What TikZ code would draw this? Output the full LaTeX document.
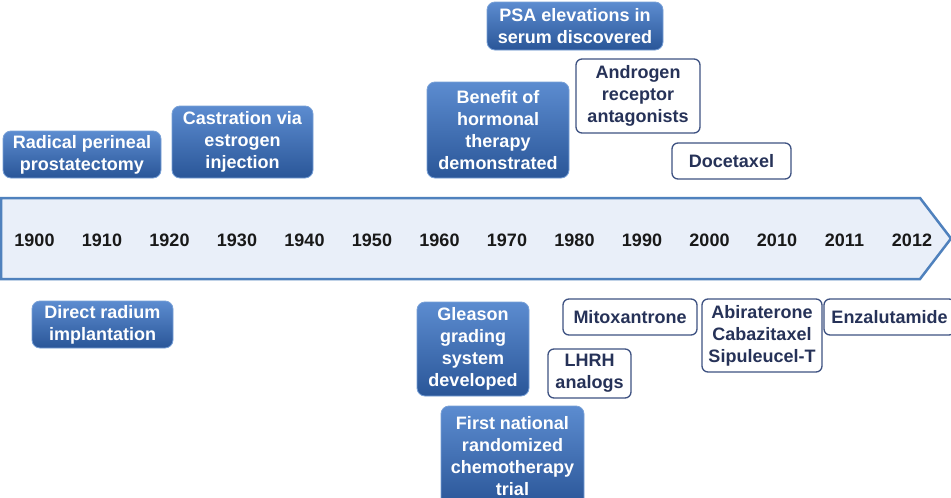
\documentclass[tikz,border=0pt]{standalone}
\usepackage{fontspec}
\setmainfont{Liberation Sans}
\definecolor{bluetop}{RGB}{92,140,208}
\definecolor{bluebot}{RGB}{42,86,152}
\definecolor{blueedge}{RGB}{120,160,215}
\definecolor{navy}{RGB}{38,50,88}
\definecolor{navyedge}{RGB}{62,82,130}
\definecolor{arrowfill}{RGB}{233,239,249}
\definecolor{arrowedge}{RGB}{79,129,189}
\definecolor{yeartext}{RGB}{25,25,25}
\tikzset{
  bluebox/.style={rounded corners=8pt, top color=bluetop, bottom color=bluebot,
    draw=blueedge, line width=0.8pt, text=white, align=center, inner sep=0pt,
    font=\bfseries\fontsize{18}{22}\selectfont},
  whitebox/.style={rounded corners=6pt, fill=white, draw=navyedge, line width=1.3pt,
    text=navy, align=center, inner sep=0pt,
    font=\bfseries\fontsize{18}{22}\selectfont},
  yearlabel/.style={text=yeartext, font=\bfseries\fontsize{18}{22}\selectfont, inner sep=0pt}
}
\begin{document}
\begin{tikzpicture}[x=1pt,y=-1pt]
\clip (0,0) rectangle (951,498);
\fill[white] (0,0) rectangle (951,498);
% timeline arrow
\draw[fill=arrowfill, draw=arrowedge, line width=2.5pt, line join=miter]
  (1,198) -- (920,198) -- (951,238.5) -- (920,279) -- (1,279) -- cycle;
\foreach \yr [count=\i from 0] in {1900,1910,1920,1930,1940,1950,1960,1970,1980,1990,2000,2010,2011,2012}{
  \node[yearlabel] (y\yr) at ({34.5+67.5*\i},240) {\yr};
}
% above the timeline
\node[bluebox, minimum width=158pt, minimum height=47pt] (rad) at (82,154.5) {Radical perineal\\prostatectomy};
\node[bluebox, minimum width=141pt, minimum height=72pt] (cast) at (242.5,142) {Castration via\\estrogen\\injection};
\node[bluebox, minimum width=142pt, minimum height=96pt] (benefit) at (498,130) {Benefit of\\hormonal\\therapy\\demonstrated};
\node[bluebox, minimum width=176pt, minimum height=48pt] (psa) at (575,26) {PSA elevations in\\serum discovered};
\node[whitebox, minimum width=124pt, minimum height=74pt] (andro) at (638,96) {Androgen\\receptor\\antagonists};
\node[whitebox, minimum width=119pt, minimum height=36pt] (doce) at (731.5,161) {Docetaxel};
% below the timeline
\node[bluebox, minimum width=141pt, minimum height=47pt] (radium) at (102.5,324.5) {Direct radium\\implantation};
\node[bluebox, minimum width=112pt, minimum height=94pt] (gleason) at (473,349) {Gleason\\grading\\system\\developed};
\node[bluebox, minimum width=143pt, minimum height=100pt] (first) at (512.5,456) {First national\\randomized\\chemotherapy\\trial};
\node[whitebox, minimum width=83pt, minimum height=49pt] (lhrh) at (589.5,373.5) {LHRH\\analogs};
\node[whitebox, minimum width=134pt, minimum height=36pt] (mito) at (630,317) {Mitoxantrone};
\node[whitebox, minimum width=120pt, minimum height=73pt] (abir) at (762,335.5) {Abiraterone\\Cabazitaxel\\Sipuleucel-T};
\node[whitebox, minimum width=131pt, minimum height=36pt] (enza) at (889.5,317) {Enzalutamide};
\end{tikzpicture}
\end{document}
